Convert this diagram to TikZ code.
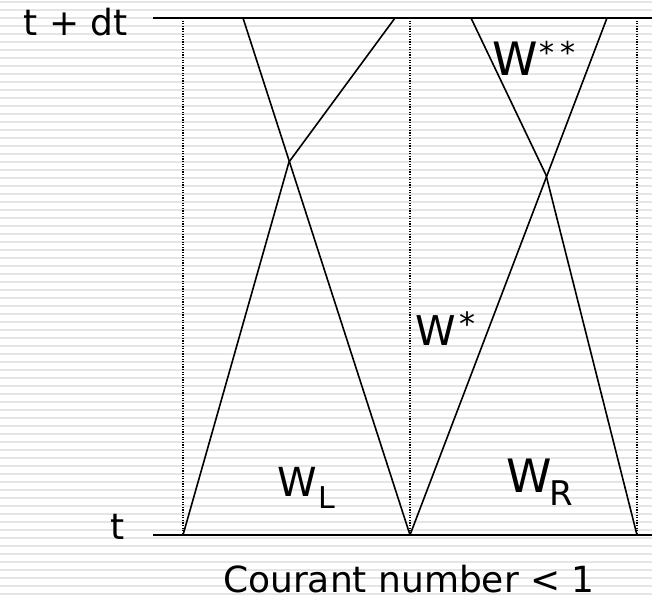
\documentclass[tikz,border=0pt]{standalone}
\usepackage{fontspec}
\setmainfont{DejaVu Sans}
\usetikzlibrary{positioning}
\definecolor{stripegray}{RGB}{229,229,229}
\tikzset{
  stripeline/.style={stripegray, line width=2.2pt},
  timeline/.style={black, line width=1.8pt},
  cellline/.style={black, dash pattern=on 1.2pt off 1.4pt, line width=1.1pt},
  waveline/.style={black, line width=1.6pt},
  lbl/.style={inner sep=0pt, font=\fontsize{36}{40}\selectfont}
}

\begin{document}
\begin{tikzpicture}[x=1pt, y=-1pt]
  % background with stripes
  \fill[white] (0,0) rectangle (652,601);
  \useasboundingbox (0,0) rectangle (652,601);
  \foreach \s in {0,...,75}
    \draw[stripeline] (0,1.7+8*\s) -- (652,1.7+8*\s);
  % time levels
  \coordinate (topL) at (153,18);
  \coordinate (topR) at (652,18);
  \coordinate (botL) at (153,535);
  \coordinate (botR) at (652,535);
  \draw[timeline] (topL) -- (topR);
  \draw[timeline] (botL) -- (botR);
  % cell interfaces
  \coordinate (i1b) at (183,535);
  \coordinate (i2b) at (410,535);
  \coordinate (i3b) at (637,535);
  \coordinate (i1t) at (183,18);
  \coordinate (i2t) at (410,18);
  \coordinate (i3t) at (637,18);
  \draw[cellline] (i1t) -- (i1b);
  \draw[cellline] (i2t) -- (i2b);
  \draw[cellline] (i3t) -- (i3b);
  % waves, left cell
  \coordinate (xl) at (289,162);
  \coordinate (al) at (395,18);
  \coordinate (bl) at (243,18);
  \draw[waveline] (i1b) -- (xl) -- (al);
  \draw[waveline] (bl) -- (i2b);
  % waves, right cell
  \coordinate (xr) at (546,175);
  \coordinate (ar) at (607,18);
  \coordinate (br) at (471,18);
  \draw[waveline] (i2b) -- (ar);
  \draw[waveline] (br) -- (xr) -- (i3b);
  % labels
  \node[lbl, anchor=base east] (ttop) at (128,36) {t + dt};
  \node[lbl, anchor=base east] (tbot) at (125,539) {t};
  \node[lbl, anchor=base] (courant) at (409,592) {Courant number < 1};
  \node[inner sep=0pt, anchor=base west] (wl) at (277,496)
    {\fontsize{40}{44}\selectfont W\kern2pt\raisebox{-12pt}{\fontsize{30}{32}\selectfont L}};
  \node[inner sep=0pt, anchor=base west] (wr) at (506,492)
    {\fontsize{46}{50}\selectfont W\kern-2pt\raisebox{-13pt}{\fontsize{34}{36}\selectfont R}};
  \node[inner sep=0pt, anchor=base west] (ws) at (415,345)
    {\fontsize{41}{44}\selectfont W\kern4pt\raisebox{10pt}{\fontsize{32}{34}\selectfont *}};
  \node[inner sep=0pt, anchor=base west] (wss) at (492,76)
    {\fontsize{46}{50}\selectfont W\kern2pt\raisebox{12pt}{\fontsize{30}{32}\selectfont *\kern6pt*}};
\end{tikzpicture}
\end{document}
